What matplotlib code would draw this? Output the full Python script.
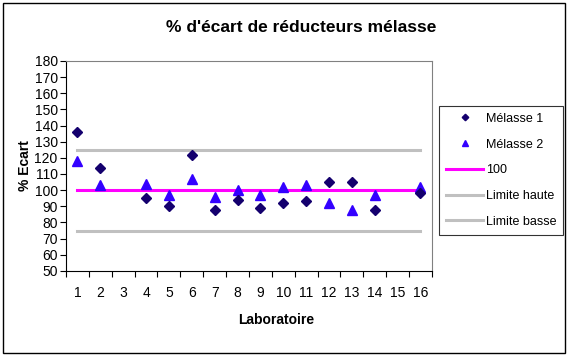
import numpy as np
import matplotlib.pyplot as plt
from matplotlib.patches import Rectangle

plt.rcParams["font.family"] = ["Liberation Sans", "DejaVu Sans"]

labs = list(range(1, 17))
melasse1 = [136, 114, np.nan, 95, 90, 122, 88, 94, 89, 92, 93, 105, 105, 88, np.nan, 98]
melasse2 = [118, 103, np.nan, 104, 97, 107, 96, 100, 97, 102, 103, 92, 88, 97, np.nan, 102]
ref_value = 100
limite_haute = 125
limite_basse = 75


def main():
    fig = plt.figure(figsize=(5.69, 3.56), dpi=100)
    ax = fig.add_axes([0.116, 0.239, 0.643, 0.590])

    ax.plot(labs, melasse1, linestyle="none", marker="D", markersize=5.5,
            color="#14006e", label="Mélasse 1", zorder=4)
    ax.plot(labs, melasse2, linestyle="none", marker="^", markersize=7,
            color="#3300ff", label="Mélasse 2", zorder=3)
    ax.plot([labs[0], labs[-1]], [ref_value] * 2, color="#ff00ff", lw=2.2,
            label="100", zorder=2)
    ax.plot([labs[0], labs[-1]], [limite_haute] * 2, color="#c0c0c0", lw=2.2,
            label="Limite haute", zorder=1)
    ax.plot([labs[0], labs[-1]], [limite_basse] * 2, color="#c0c0c0", lw=2.2,
            label="Limite basse", zorder=1)

    ax.set_xlim(0.5, 16.5)
    ax.set_ylim(50, 180)
    ax.set_yticks(range(50, 181, 10))
    ax.set_xticks(np.arange(0.5, 17, 1))
    ax.set_xticklabels([])
    ax.set_xticks(labs, minor=True)
    ax.set_xticklabels([str(v) for v in labs], minor=True)
    ax.tick_params(axis="x", which="major", length=4, direction="out")
    ax.tick_params(axis="x", which="minor", length=0, pad=11, labelsize=10)
    ax.tick_params(axis="y", length=4, direction="out", labelsize=10, pad=2)

    for side in ["top", "right"]:
        ax.spines[side].set_color("#808080")
    for side in ["left", "bottom"]:
        ax.spines[side].set_color("black")

    fig.text(301 / 569, 1 - 28 / 356, "% d'écart de réducteurs mélasse",
             fontsize=12.5, fontweight="bold", ha="center", va="center")
    ax.set_xlabel("Laboratoire", fontsize=10, fontweight="bold")
    ax.xaxis.set_label_coords(0.574, -0.2)
    ax.set_ylabel("% Ecart", fontsize=10, fontweight="bold", labelpad=2)

    leg = fig.legend(loc="upper left", bbox_to_anchor=(439 / 569, 1 - 106 / 356),
                     borderaxespad=0, fancybox=False, edgecolor="black",
                     fontsize=9, handlelength=3.0, labelspacing=1.1,
                     markerscale=0.6, borderpad=0.55, handletextpad=0.2)
    leg.get_frame().set_linewidth(0.8)

    fig.patches.append(Rectangle((3 / 569, 3 / 356), 562 / 569, 350 / 356,
                                 transform=fig.transFigure, fill=False,
                                 edgecolor="black", lw=1))

    fig.savefig("out.png", dpi=100)
    plt.close(fig)


if __name__ == "__main__":
    main()
